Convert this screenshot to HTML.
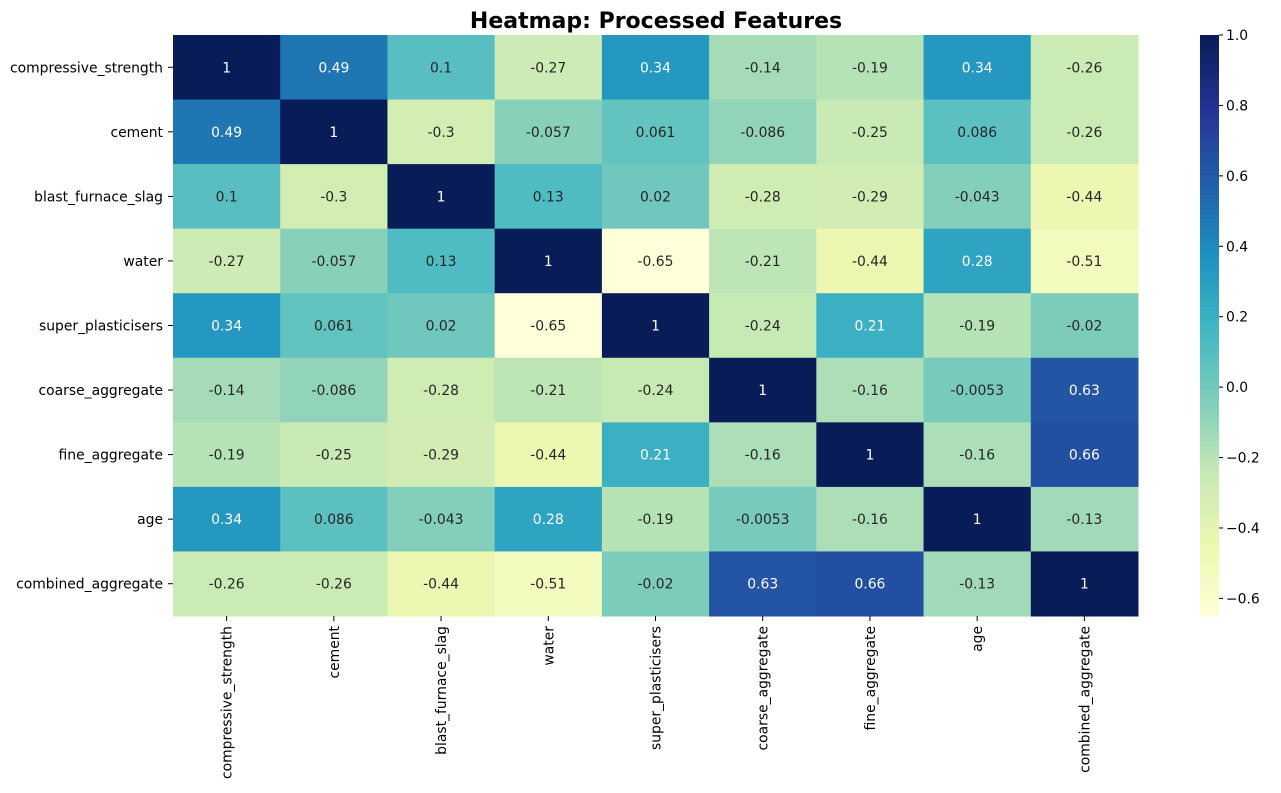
<!DOCTYPE html>
<html><head><meta charset="utf-8"><style>
body{margin:0;background:#fff;font-family:"DejaVu Sans",sans-serif;}
svg text{font-family:"DejaVu Sans",sans-serif;}
</style></head><body>
<svg id="c" width="1281" height="789" xmlns="http://www.w3.org/2000/svg">
<text x="656" y="28" text-anchor="middle" font-size="22" font-weight="bold" fill="#000">Heatmap: Processed Features</text>
<g id="cells"></g>
<g id="ylab"></g>
<g id="xlab"></g>
<g id="cbar"></g>
</svg>
<script>
const labels=["compressive_strength","cement","blast_furnace_slag","water","super_plasticisers","coarse_aggregate","fine_aggregate","age","combined_aggregate"];
const row0=[1,0.49,0.1,-0.27,0.34,-0.14,-0.19,0.34,-0.26];
const row1=[0.49,1,-0.3,-0.057,0.061,-0.086,-0.25,0.086,-0.26];
const row2=[0.1,-0.3,1,0.13,0.02,-0.28,-0.29,-0.043,-0.44];
const row3=[-0.27,-0.057,0.13,1,-0.65,-0.21,-0.44,0.28,-0.51];
const row4=[0.34,0.061,0.02,-0.65,1,-0.24,0.21,-0.19,-0.02];
const row5=[-0.14,-0.086,-0.28,-0.21,-0.24,1,-0.16,-0.0053,0.63];
const row6=[-0.19,-0.25,-0.29,-0.44,0.21,-0.16,1,-0.16,0.66];
const row7=[0.34,0.086,-0.043,0.28,-0.19,-0.0053,-0.16,1,-0.13];
const row8=[-0.26,-0.26,-0.44,-0.51,-0.02,0.63,0.66,-0.13,1];
const cbTicks=[1.0,0.8,0.6,0.4,0.2,0.0,-0.2,-0.4,-0.6];
const rows=[row0,row1,row2,row3,row4,row5,row6,row7,row8];
const NS="http://www.w3.org/2000/svg";
const FS=13.9;
const X0=173,X1=1138,Y0=35,Y1=616;
const cw=(X1-X0)/labels.length,ch=(Y1-Y0)/labels.length;
const all=rows.flat();const vmin=Math.min(...all),vmax=Math.max(...all);
const stops=["#ffffd9","#edf8b1","#c7e9b4","#7fcdbb","#41b6c4","#1d91c0","#225ea8","#253494","#081d58"].map(h=>[1,3,5].map(i=>parseInt(h.substr(i,2),16)));
function rgb(v){let t=(v-vmin)/(vmax-vmin);t=Math.max(0,Math.min(1,t))*(stops.length-1);const i=Math.min(Math.floor(t),stops.length-2),f=t-i;return stops[i].map((a,k)=>a+(stops[i+1][k]-a)*f);}
function col(v){const c=rgb(v).map(Math.round);return `rgb(${c[0]},${c[1]},${c[2]})`;}
function lum(v){const c=rgb(v).map(x=>{x/=255;return x<=0.03928?x/12.92:Math.pow((x+0.055)/1.055,2.4);});return 0.2126*c[0]+0.7152*c[1]+0.0722*c[2];}
function el(t,a,p){const e=document.createElementNS(NS,t);for(const k in a)e.setAttribute(k,a[k]);p.appendChild(e);return e;}
const xs=i=>X0+i*cw, ys=j=>Y0+j*ch;
const G=document.getElementById('cells');
rows.forEach((r,j)=>r.forEach((v,i)=>{
 const rc=el('rect',{x:xs(i),y:ys(j),width:cw+0.5,height:ch+0.5,fill:col(v)},G);
 
 
 const t=el('text',{x:xs(i)+cw/2,y:ys(j)+ch/2+5,'text-anchor':'middle','font-size':FS,fill:lum(v)>0.408?'#262626':'#ffffff'},G);
 t.textContent=String(v);
 
 
}));
const YL=document.getElementById('ylab'),XL=document.getElementById('xlab');
labels.forEach((l,j)=>{
 el('line',{x1:X0-5,x2:X0,y1:ys(j)+ch/2,y2:ys(j)+ch/2,stroke:'#000'},YL);
 const t=el('text',{x:X0-10,y:ys(j)+ch/2+5,'text-anchor':'end','font-size':FS,fill:'#000'},YL);
 t.textContent=l;
 
 
 const cx=xs(j)+cw/2;
 el('line',{x1:cx,x2:cx,y1:Y1,y2:Y1+5,stroke:'#000'},XL);
 const u=el('text',{x:0,y:0,'text-anchor':'end','font-size':FS,fill:'#000',transform:`translate(${cx+5},${Y1+10}) rotate(-90)`},XL);
 u.textContent=l;
 
 
});
const CB=document.getElementById('cbar');
const CX=1200,CW=19,cy=v=>Y0+(vmax-v)/(vmax-vmin)*(Y1-Y0);
const N=120;
for(let k=0;k<N;k++){const v=vmax-(vmax-vmin)*k/N;el('rect',{x:CX,y:Y0+(Y1-Y0)*k/N,width:CW,height:(Y1-Y0)/N+0.6,fill:col(v)},CB);}
cbTicks.forEach(v=>{
 const y=cy(v);
 el('line',{x1:CX+CW,x2:CX+CW+4,y1:y,y2:y,stroke:'#000'},CB);
 const t=el('text',{x:CX+CW+7,y:y+5,'font-size':FS,fill:'#000'},CB);
 t.textContent=(v<0?'\u2212':'')+Math.abs(v).toFixed(1);
 
 
});
</script>
</body></html>
